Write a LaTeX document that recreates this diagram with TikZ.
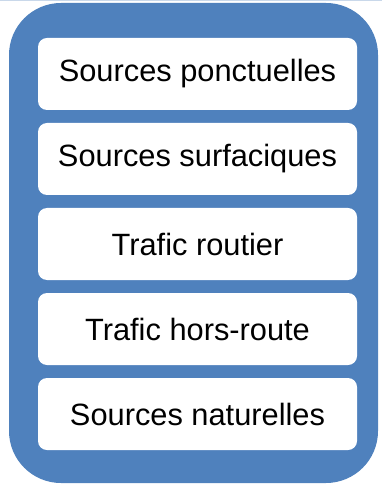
\documentclass[tikz,border=0pt]{standalone}
\usepackage{fontspec}
\setmainfont{Liberation Sans}
\usetikzlibrary{shapes,arrows}
\usetikzlibrary{positioning}

\definecolor{frameblue}{HTML}{4F81BD}
\definecolor{edgeline}{HTML}{C9D8EA}

\begin{document}
\begin{tikzpicture}[x=0.5pt, y=-0.5pt, node distance = 42.5pt, auto]
    \tikzstyle{frame} = [fill=frameblue, draw=none, rounded corners=26pt]
    \tikzstyle{source} = [rectangle, fill=white, text centered, rounded corners=4.5pt, minimum width=159.5pt, minimum height=36pt, font=\fontsize{15.4}{18}\selectfont]

    \useasboundingbox (0,0) rectangle (382,485);
    \draw [edgeline, line width=0.6pt] (0,0.6) -- (382,0.6);
    \fill [frame] (9,3) rectangle (378,483);

    \node [source] at (197.5,74) (ponct) {Sources ponctuelles};
    \node [source, below of=ponct] (surf) {Sources surfaciques};
    \node [source, below of=surf] (route) {Trafic routier};
    \node [source, below of=route] (horsroute) {Trafic hors-route};
    \node [source, below of=horsroute] (nat) {Sources naturelles};
  \end{tikzpicture}
\end{document}
